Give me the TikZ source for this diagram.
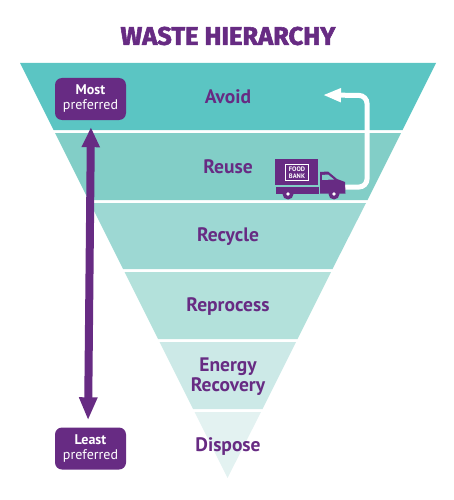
\documentclass[tikz,border=0pt]{standalone}
\usepackage{fontspec}
\setmainfont{PT Sans}
\newfontfamily\titlefont[BoldFeatures={FakeBold=2.2}]{Fira Sans}
\usetikzlibrary{arrows.meta}
\definecolor{pur}{HTML}{672B83}
\definecolor{bandA}{HTML}{5BC5C3}
\definecolor{bandB}{HTML}{82CEC7}
\definecolor{bandC}{HTML}{9DD8D3}
\definecolor{bandD}{HTML}{B3E1DB}
\definecolor{bandE}{HTML}{CCE9E7}
\definecolor{bandF}{HTML}{E3F2F1}
\tikzset{
 x=1pt,y=-1pt,
 lab/.style={text=pur,font=\fontsize{19.5}{20}\selectfont\bfseries,align=center,inner sep=0pt},
 pref/.style={fill=pur,rounded corners=7pt,minimum width=71pt,minimum height=42pt,inner sep=0pt,text=white,align=center,font=\fontsize{14}{15}\selectfont},
}
\begin{document}
\begin{tikzpicture}
\useasboundingbox (0,0) rectangle (454,500);
\fill[bandA] (20,63) -- (436,63) -- (402.5,130) -- (53.5,130) -- cycle;
\fill[bandB] (55,133) -- (401,133) -- (367.5,200) -- (88.5,200) -- cycle;
\fill[bandC] (90,203) -- (366,203) -- (332.5,269) -- (123,269) -- cycle;
\fill[bandD] (124.5,272) -- (331,272) -- (297.5,339) -- (158,339) -- cycle;
\fill[bandE] (159.5,342) -- (296,342) -- (262.5,409) -- (193,409) -- cycle;
\fill[bandF] (194.5,412) -- (261,412) -- (227.5,478) -- cycle;

\node[text=pur,inner sep=0pt,font=\titlefont\fontsize{25.5}{26}\selectfont\bfseries] (title) at (228,36) {WASTE HIERARCHY};
\node[lab] (avoid) at (228,96.5) {Avoid};
\node[lab] (reuse) at (228,166.5) {Reuse};
\node[lab] (recycle) at (228,237) {Recycle};
\node[lab] (reprocess) at (228,307) {Reprocess};
\node[lab] (energy) at (228,377) {Energy\\Recovery};
\node[lab] (dispose) at (228,447) {Dispose};

\node[pref] (most) at (90.5,99) {\textbf{Most}\\preferred};
\node[pref] (least) at (90.5,448.5) {\textbf{Least}\\preferred};
\draw[pur,line width=8pt,{Triangle[length=20pt,width=17pt]}-{Triangle[length=23pt,width=17pt]},shorten <=7pt,shorten >=7pt] ([xshift=0.5pt]most.south) -- ([xshift=-2.5pt]least.north);

% truck route
\coordinate (routeA) at (345,187);
\coordinate (routeB) at (323,95);
\draw[white,line width=5pt,rounded corners=8pt,-{Triangle[length=18pt,width=13pt]}] (routeA) -- (367,187) -- (367,95.5) -- (routeB);

% truck
\fill[pur] (275,159) rectangle (318,185);
\fill[pur] (276,186.5) rectangle (319,193.5);
\fill[pur] (320,172) -- (328,171.5) -- (337,179) -- (345,182) -- (345.5,193.5) -- (320,193.5) -- cycle;
\fill[bandB] (322,175) -- (328,174.5) -- (334,179.5) -- (322,180) -- cycle;
\foreach \c in {288,334}{
 \fill[pur] (\c,194) circle (5.5);
 \fill[white] (\c,194) circle (1.8);
}
\draw[white,line width=1.2pt] (285.5,164.5) rectangle (308.5,180.5);
\node[text=white,inner sep=0pt,align=center,font=\fontsize{6.5}{7}\selectfont\bfseries] (bank) at (297,172.5) {FOOD\\BANK};
\end{tikzpicture}
\end{document}
